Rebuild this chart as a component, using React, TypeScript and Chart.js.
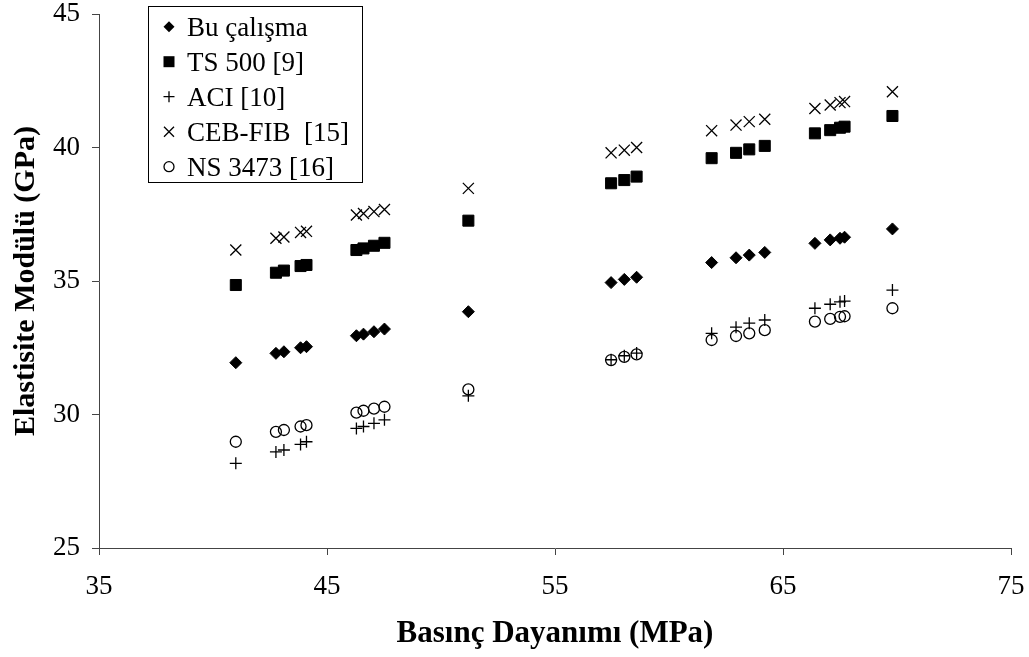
import React, { useEffect, useRef } from "react";
import { Chart, registerables } from "chart.js";

Chart.register(...registerables);

// Compressive strength (MPa)
const strength = [41.0, 42.76, 43.11, 43.84, 44.1, 46.29, 46.6, 47.06, 47.52, 51.2, 57.46, 58.04, 58.58, 61.87, 62.94, 63.52, 64.2, 66.4, 67.07, 67.5, 67.7, 69.8];

// Elastic modulus (GPa)
const buCalisma = [31.94, 32.29, 32.35, 32.5, 32.54, 32.95, 33.01, 33.1, 33.2, 33.85, 34.94, 35.06, 35.14, 35.69, 35.87, 35.97, 36.07, 36.41, 36.54, 36.6, 36.64, 36.95];
const ts500 = [34.85, 35.31, 35.39, 35.56, 35.6, 36.16, 36.22, 36.32, 36.43, 37.26, 38.66, 38.78, 38.91, 39.6, 39.8, 39.93, 40.06, 40.53, 40.65, 40.74, 40.78, 41.18];
const aci = [28.17, 28.6, 28.67, 28.88, 28.98, 29.48, 29.55, 29.67, 29.8, 30.7, 32.05, 32.2, 32.3, 33.04, 33.27, 33.42, 33.54, 33.98, 34.13, 34.22, 34.25, 34.66];
const cebFib = [36.16, 36.6, 36.65, 36.82, 36.86, 37.47, 37.53, 37.6, 37.68, 38.47, 39.8, 39.9, 40.0, 40.63, 40.84, 40.97, 41.06, 41.46, 41.59, 41.68, 41.72, 42.09];
const ns3473 = [28.98, 29.35, 29.42, 29.55, 29.6, 30.07, 30.14, 30.22, 30.29, 30.94, 32.04, 32.16, 32.25, 32.79, 32.94, 33.04, 33.16, 33.48, 33.58, 33.66, 33.68, 33.98];

const seriesLabels = ["Bu çalışma", "TS 500 [9]", "ACI [10]", "CEB-FIB  [15]", "NS 3473 [16]"];
const xTitle = "Basınç Dayanımı (MPa)";
const yTitle = "Elastisite Modülü (GPa)";

const FONT = "'Liberation Serif', 'Times New Roman', serif";

function pts(ys: number[]) {
  return strength.map((x, i) => ({ x, y: ys[i] }));
}

const legendBox = {
  id: "legendBox",
  afterDraw(chart: any) {
    const ctx = chart.ctx;
    ctx.save();
    const x0 = 148, y0 = 6, x1 = 362, y1 = 182;
    ctx.fillStyle = "#fff";
    ctx.fillRect(x0, y0, x1 - x0, y1 - y0);
    ctx.strokeStyle = "#000";
    ctx.lineWidth = 1;
    ctx.strokeRect(x0 + 0.5, y0 + 0.5, x1 - x0, y1 - y0);
    const mx = 169;
    chart.data.datasets.forEach((ds: any, i: number) => {
      const cy = 26.7 + i * 35;
      ctx.strokeStyle = "#000";
      ctx.fillStyle = "#000";
      ctx.lineWidth = 1.3;
      ctx.beginPath();
      if (i === 0) {
        const r = 5.5;
        ctx.moveTo(mx, cy - r); ctx.lineTo(mx + r, cy); ctx.lineTo(mx, cy + r); ctx.lineTo(mx - r, cy); ctx.closePath();
        ctx.fill();
      } else if (i === 1) {
        ctx.rect(mx - 5.5, cy - 5.5, 11, 11);
        ctx.fill();
      } else if (i === 2) {
        ctx.moveTo(mx - 5.5, cy); ctx.lineTo(mx + 5.5, cy); ctx.moveTo(mx, cy - 5.5); ctx.lineTo(mx, cy + 5.5);
        ctx.stroke();
      } else if (i === 3) {
        const d = 5;
        ctx.moveTo(mx - d, cy - d); ctx.lineTo(mx + d, cy + d); ctx.moveTo(mx + d, cy - d); ctx.lineTo(mx - d, cy + d);
        ctx.stroke();
      } else {
        ctx.arc(mx, cy, 5, 0, Math.PI * 2);
        ctx.stroke();
      }
      ctx.fillStyle = "#000";
      ctx.font = `27px ${FONT}`;
      ctx.textAlign = "left";
      ctx.textBaseline = "alphabetic";
      ctx.fillText(ds.label, 187, cy + 9);
    });
    ctx.restore();
  },
};

const zeroPad = (s: any) => {
  s.paddingLeft = 0;
  s.paddingRight = 0;
  s.paddingTop = 0;
  s.paddingBottom = 0;
};

export default function App() {
  const ref = useRef<HTMLCanvasElement>(null);
  useEffect(() => {
    if (!ref.current) return;
    const common = { showLine: false };
    const chart = new Chart(ref.current, {
      type: "scatter",
      data: {
        datasets: [
          { ...common, label: seriesLabels[0], data: pts(buCalisma), pointStyle: "rectRot", pointRadius: 6, backgroundColor: "#000", borderColor: "#000", borderWidth: 1 },
          { ...common, label: seriesLabels[1], data: pts(ts500), pointStyle: "rect", pointRadius: 7.8, backgroundColor: "#000", borderColor: "#000", borderWidth: 1 },
          { ...common, label: seriesLabels[2], data: pts(aci), pointStyle: "cross", pointRadius: 6, backgroundColor: "#000", borderColor: "#000", borderWidth: 1.3 },
          { ...common, label: seriesLabels[3], data: pts(cebFib), pointStyle: "crossRot", pointRadius: 7.8, backgroundColor: "#000", borderColor: "#000", borderWidth: 1.3 },
          { ...common, label: seriesLabels[4], data: pts(ns3473), pointStyle: "circle", pointRadius: 5.5, backgroundColor: "rgba(0,0,0,0)", borderColor: "#000", borderWidth: 1.3 },
        ],
      },
      options: {
        responsive: false,
        animation: false,
        devicePixelRatio: 1,
        layout: { padding: { left: 0, top: 14, right: 18, bottom: 0 } },
        plugins: { legend: { display: false }, tooltip: { enabled: false } },
        elements: { point: { hoverRadius: 6 } },
        scales: {
          x: {
            type: "linear",
            min: 35,
            max: 75,
            ticks: { stepSize: 10, color: "#000", font: { family: FONT, size: 27 }, padding: 16, maxRotation: 0 },
            grid: { drawOnChartArea: false, drawTicks: true, tickLength: 7, tickColor: "#444" },
            border: { color: "#444", width: 1 },
            title: { display: true, text: xTitle, color: "#000", font: { family: FONT, size: 31, weight: "bold" }, padding: { top: 0, bottom: 4 } },
            afterFit: (s: any) => { s.height = 109; zeroPad(s); },
          },
          y: {
            type: "linear",
            min: 25,
            max: 45,
            ticks: { stepSize: 5, color: "#000", font: { family: FONT, size: 27 }, padding: 12 },
            grid: { drawOnChartArea: false, drawTicks: true, tickLength: 7, tickColor: "#444" },
            border: { color: "#444", width: 1 },
            title: { display: true, text: yTitle, color: "#000", font: { family: FONT, size: 30, weight: "bold" }, padding: { top: 8, bottom: 0 } },
            afterFit: (s: any) => { s.width = 99; zeroPad(s); },
          },
        },
      },
      plugins: [legendBox],
    } as any);
    return () => chart.destroy();
  }, []);
  return (
    <div style={{ position: "fixed", left: 0, top: 0, width: 1029, height: 657, background: "#fff" }}>
      <canvas ref={ref} width={1029} height={657} />
    </div>
  );
}
